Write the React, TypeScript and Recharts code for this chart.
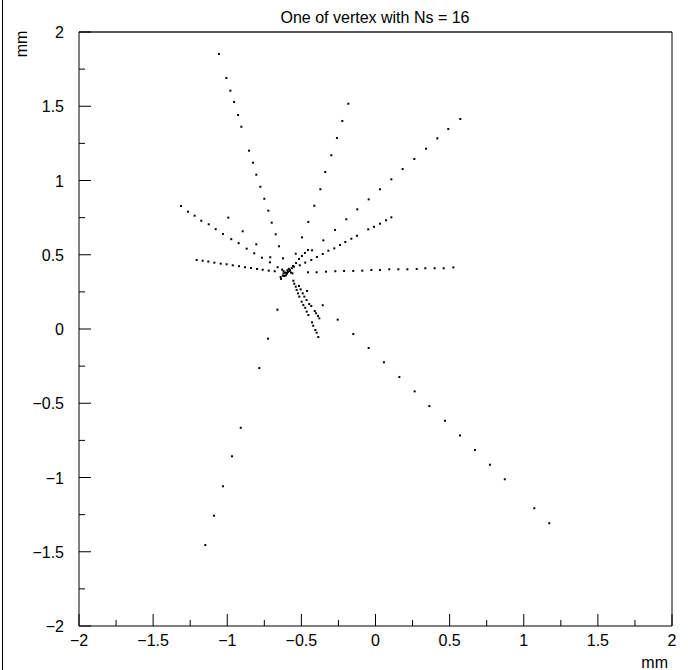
import React from 'react';
import { ScatterChart, Scatter, XAxis, YAxis, ReferenceLine } from 'recharts';

type Pt = [number, number];

// hits along each reconstructed track (x, y in mm)
const trackA: Pt[] = [
  [-1.056, 1.852], [-1.006, 1.69], [-0.979, 1.605], [-0.954, 1.529], [-0.927, 1.441],
  [-0.905, 1.362], [-0.853, 1.201], [-0.826, 1.12], [-0.804, 1.039], [-0.777, 0.958],
  [-0.75, 0.877], [-0.723, 0.797], [-0.7, 0.716], [-0.673, 0.638], [-0.651, 0.557],
  [-0.624, 0.476],
];
const trackB: Pt[] = [
  [-0.183, 1.517], [-0.224, 1.401], [-0.26, 1.286], [-0.298, 1.17], [-0.339, 1.057],
  [-0.372, 0.941], [-0.413, 0.83], [-0.453, 0.721], [-0.496, 0.617], [-0.538, 0.507],
];
const trackC: Pt[] = [
  [0.572, 1.414], [0.491, 1.347], [0.417, 1.284], [0.341, 1.214], [0.262, 1.145],
  [0.183, 1.077], [0.107, 1.008], [0.03, 0.941], [-0.046, 0.873], [-0.123, 0.806],
  [-0.197, 0.739], [-0.273, 0.667], [-0.352, 0.597], [-0.428, 0.53],
];
const trackD: Pt[] = [
  [0.107, 0.752], [0.071, 0.732], [0.03, 0.709], [-0.01, 0.688], [-0.049, 0.671],
  [-0.125, 0.628], [-0.163, 0.608], [-0.204, 0.586], [-0.239, 0.566], [-0.278, 0.543],
  [-0.318, 0.527], [-0.356, 0.505], [-0.395, 0.485], [-0.433, 0.465], [-0.474, 0.447],
  [-0.511, 0.429],
];
const trackE: Pt[] = [
  [0.525, 0.415], [0.46, 0.409], [0.399, 0.409], [0.336, 0.409], [0.278, 0.404],
  [0.215, 0.402], [0.154, 0.402], [0.093, 0.402], [0.03, 0.397], [-0.028, 0.397],
  [-0.089, 0.393], [-0.15, 0.391], [-0.212, 0.391], [-0.271, 0.389], [-0.334, 0.386],
  [-0.397, 0.382], [-0.455, 0.382],
];
const trackF: Pt[] = [
  [-1.206, 0.465], [-1.166, 0.46], [-1.128, 0.454], [-1.087, 0.447], [-1.044, 0.44],
  [-1.004, 0.436], [-0.963, 0.429], [-0.921, 0.423], [-0.88, 0.416], [-0.84, 0.411],
  [-0.799, 0.404], [-0.761, 0.399], [-0.72, 0.393], [-0.68, 0.389],
];
const trackG: Pt[] = [
  [-1.312, 0.828], [-1.265, 0.79], [-1.22, 0.763], [-1.175, 0.729], [-1.125, 0.705],
  [-1.078, 0.672], [-1.029, 0.64], [-0.973, 0.605], [-0.923, 0.578], [-0.869, 0.541],
  [-0.818, 0.51], [-0.766, 0.48], [-0.712, 0.449], [-0.66, 0.416],
];
const trackH: Pt[] = [
  [-0.993, 0.75], [-0.896, 0.658], [-0.804, 0.57], [-0.71, 0.483],
];
const trackI: Pt[] = [
  [-0.637, 0.337], [-0.617, 0.357], [-0.597, 0.377], [-0.577, 0.397], [-0.557, 0.424],
  [-0.536, 0.444], [-0.516, 0.471], [-0.496, 0.492], [-0.476, 0.512], [-0.455, 0.532],
];
const trackJ: Pt[] = [
  [-0.462, 0.256], [-0.356, 0.16], [-0.255, 0.063], [-0.15, -0.034], [-0.046, -0.128],
  [0.057, -0.224], [0.161, -0.323], [0.264, -0.42], [0.363, -0.519], [0.469, -0.618],
  [0.57, -0.717], [0.671, -0.815], [0.772, -0.914], [0.872, -1.012], [1.071, -1.207],
  [1.172, -1.308],
];
const trackK: Pt[] = [
  [-0.662, 0.13], [-0.725, -0.065], [-0.784, -0.263], [-0.909, -0.665], [-0.968, -0.857],
  [-1.029, -1.059], [-1.089, -1.257], [-1.148, -1.455],
];
const trackL: Pt[] = [
  [-0.554, 0.325], [-0.548, 0.305], [-0.538, 0.285], [-0.532, 0.263], [-0.523, 0.24],
  [-0.514, 0.218], [-0.498, 0.184], [-0.487, 0.162], [-0.474, 0.143], [-0.464, 0.117],
  [-0.453, 0.094], [-0.428, 0.045], [-0.42, 0.022], [-0.406, -0.007], [-0.397, -0.025],
  [-0.386, -0.054],
];
const trackM: Pt[] = [
  [-0.516, 0.29], [-0.505, 0.267], [-0.491, 0.24], [-0.48, 0.218], [-0.465, 0.195],
  [-0.447, 0.168], [-0.433, 0.155], [-0.41, 0.121], [-0.401, 0.106], [-0.388, 0.088],
  [-0.379, 0.072],
];
const vertexHits: Pt[] = [
  [-0.61, 0.38], [-0.59, 0.385], [-0.6, 0.37], [-0.58, 0.39], [-0.62, 0.375], [-0.595, 0.395],
  [-0.64, 0.35], [-0.625, 0.36], [-0.565, 0.41], [-0.55, 0.42], [-0.57, 0.38], [-0.56, 0.375],
  [-0.62, 0.39], [-0.63, 0.4], [-0.605, 0.36], [-0.585, 0.405],
];

const TRACKS = [trackA, trackB, trackC, trackD, trackE, trackF, trackG, trackH, trackI, trackJ, trackK, trackL, trackM, vertexHits];

const AXIS_TICKS = [-2, -1.75, -1.5, -1.25, -1, -0.75, -0.5, -0.25, 0, 0.25, 0.5, 0.75, 1, 1.25, 1.5, 1.75, 2];

const FONT = '"Liberation Sans", Arial, Helvetica, sans-serif';

const fmt = (v: number) => (v < 0 ? '\u2212' + Math.abs(v) : String(v));
const isMajor = (v: number) => Math.abs(v * 2 - Math.round(v * 2)) < 1e-6;

const XTick = ({ x, y, payload }: any) => {
  const v = payload.value;
  const major = isMajor(v);
  return (
    <g>
      <line x1={x} x2={x} y1={y} y2={y - (major ? 12 : 6)} stroke="#000" />
      {major && (
        <text x={x} y={y + 20} textAnchor="middle" fontSize={16} fontFamily={FONT} fill="#000">
          {fmt(v)}
        </text>
      )}
    </g>
  );
};

const YTick = ({ x, y, payload }: any) => {
  const v = payload.value;
  const major = isMajor(v);
  return (
    <g>
      <line x1={x} x2={x + (major ? 12 : 6)} y1={y} y2={y} stroke="#000" />
      {major && (
        <text x={x - 15} y={y + 6} textAnchor="end" fontSize={16} fontFamily={FONT} fill="#000">
          {fmt(v)}
        </text>
      )}
    </g>
  );
};

const Hit = (props: any) => (
  <rect x={props.cx - 1} y={props.cy - 1} width={2} height={2} fill="#000" />
);

export default function App() {
  return (
    <div style={{ position: 'absolute', left: 0, top: 0, width: 688, height: 670, background: '#fff' }}>
      <ScatterChart width={688} height={670} margin={{ top: 32, right: 16, bottom: 0, left: 0 }}>
        <XAxis
          type="number"
          dataKey="x"
          domain={[-2, 2]}
          ticks={AXIS_TICKS}
          interval={0}
          allowDataOverflow
          height={44}
          tickSize={0}
          tickMargin={0}
          tickLine={false}
          axisLine={{ stroke: '#000' }}
          tick={<XTick />}
        />
        <YAxis
          type="number"
          dataKey="y"
          domain={[-2, 2]}
          ticks={AXIS_TICKS}
          interval={0}
          allowDataOverflow
          width={79}
          tickSize={0}
          tickMargin={0}
          tickLine={false}
          axisLine={{ stroke: '#000' }}
          tick={<YTick />}
        />
        <ReferenceLine y={2} stroke="#222" strokeWidth={1.5} />
        <ReferenceLine x={2} stroke="#000" />
        {TRACKS.map((t, i) => (
          <Scatter
            key={i}
            data={t.map(([x, y]) => ({ x, y }))}
            shape={<Hit />}
            isAnimationActive={false}
          />
        ))}
      </ScatterChart>
      <svg width={688} height={670} style={{ position: 'absolute', left: 0, top: 0, pointerEvents: 'none' }}>
        <line x1={2.5} x2={2.5} y1={0} y2={670} stroke="#000" />
        <text x={375} y={23} textAnchor="middle" fontSize={16} fontFamily={FONT} fill="#000">
          One of vertex with Ns = 16
        </text>
        <text x={668} y={668} textAnchor="end" fontSize={16} fontFamily={FONT} fill="#000">
          mm
        </text>
        <text transform="translate(27,44) rotate(-90)" textAnchor="middle" fontSize={16} fontFamily={FONT} fill="#000">
          mm
        </text>
      </svg>
    </div>
  );
}
